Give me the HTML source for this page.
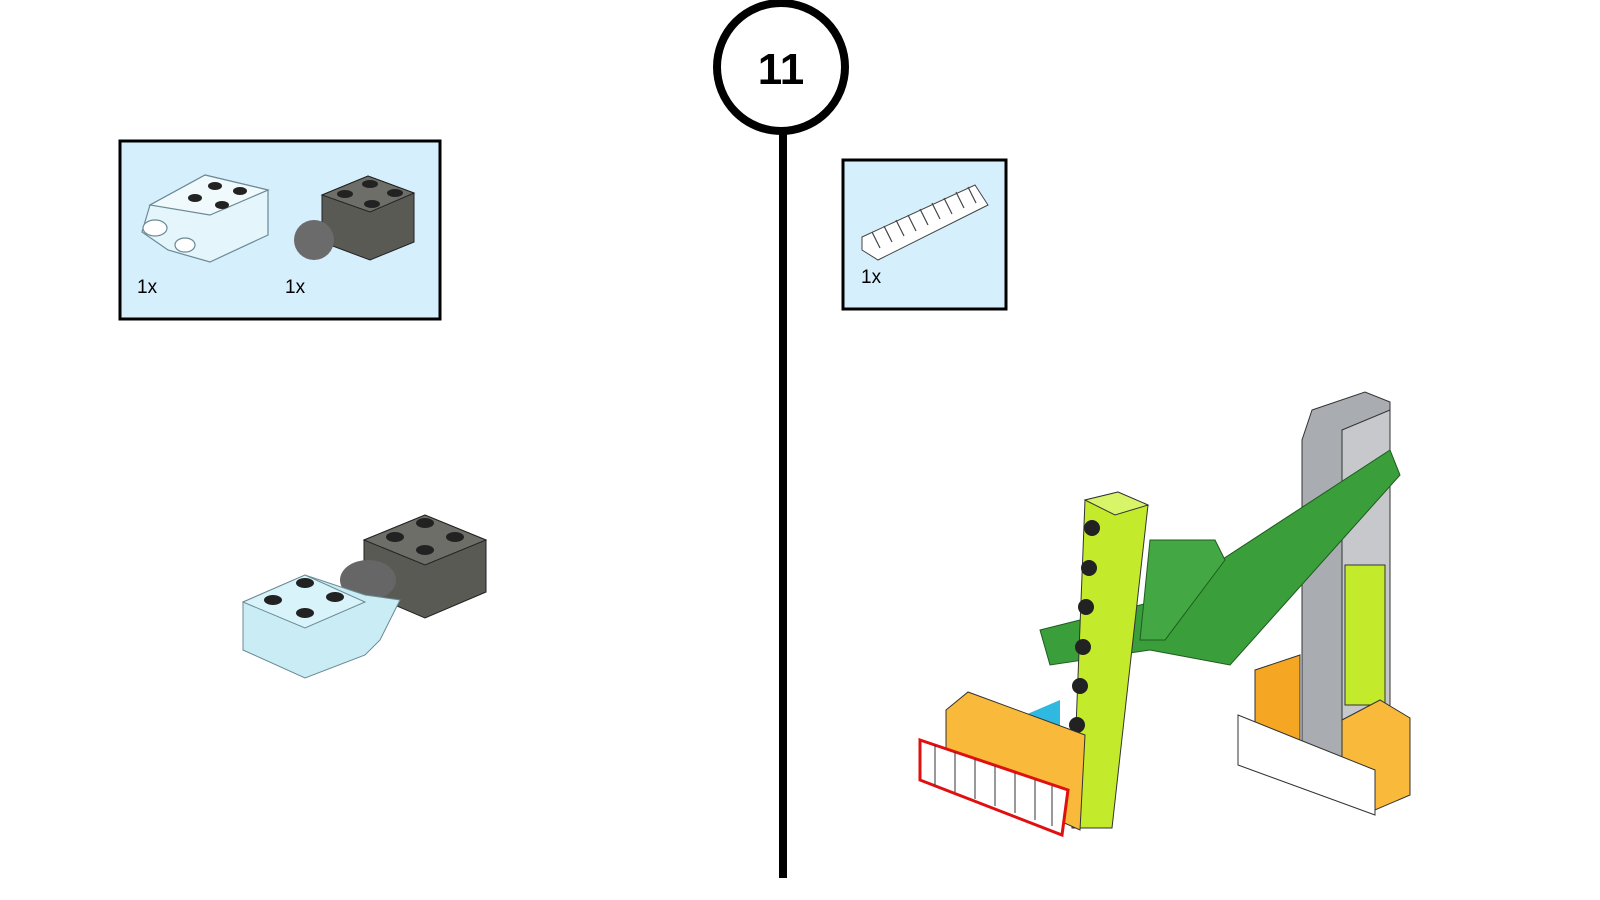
<!DOCTYPE html>
<html><head><meta charset="utf-8"><style>
html,body{margin:0;padding:0;background:#fff;width:1600px;height:900px;overflow:hidden}
svg{display:block}
text{font-family:"Liberation Sans",sans-serif}
</style></head><body>
<svg width="1600" height="900" viewBox="0 0 1600 900" xmlns="http://www.w3.org/2000/svg">
<!-- step circle and line -->
<line x1="783" y1="128" x2="783" y2="878" stroke="#000" stroke-width="8"/>
<circle cx="781" cy="67" r="64" fill="#fff" stroke="#000" stroke-width="8"/>
<text x="781" y="84" font-size="44" font-weight="bold" text-anchor="middle">11</text>

<!-- left parts box -->
<rect x="120" y="141" width="320" height="178" fill="#d6effc" stroke="#000" stroke-width="3"/>
<g stroke="#6a8a96" stroke-width="1.2" fill="#e4f5fb">
<polygon points="150,205 205,175 268,190 268,235 210,262 168,250 142,232"/>
<polygon points="205,175 268,190 210,215 150,205" fill="#f0fafd"/>
<ellipse cx="155" cy="228" rx="12" ry="8" fill="#fff"/>
<ellipse cx="185" cy="245" rx="10" ry="7" fill="#fff"/>
</g>
<g fill="#222"><ellipse cx="215" cy="186" rx="7" ry="4"/><ellipse cx="240" cy="191" rx="7" ry="4"/><ellipse cx="195" cy="198" rx="7" ry="4"/><ellipse cx="222" cy="205" rx="7" ry="4"/></g>
<polygon points="322,195 368,176 414,193 414,242 370,260 322,242" fill="#5a5a55" stroke="#222"/>
<polygon points="322,195 368,176 414,193 370,212" fill="#6e6e68" stroke="#222"/>
<g fill="#222"><ellipse cx="370" cy="184" rx="8" ry="4"/><ellipse cx="395" cy="193" rx="8" ry="4"/><ellipse cx="345" cy="194" rx="8" ry="4"/><ellipse cx="372" cy="204" rx="8" ry="4"/></g>
<circle cx="314" cy="240" r="20" fill="#6b6b6b"/>
<text x="137" y="293" font-size="19">1x</text>
<text x="285" y="293" font-size="19">1x</text>

<!-- right parts box -->
<rect x="843" y="160" width="163" height="149" fill="#d6effc" stroke="#000" stroke-width="3"/>
<polygon points="862,237 975,185 988,205 878,260 862,250" fill="#fff" stroke="#444"/>
<g stroke="#444" stroke-width="1.2">
<line x1="872" y1="232" x2="880" y2="248"/><line x1="884" y1="226" x2="892" y2="242"/><line x1="896" y1="220" x2="904" y2="236"/><line x1="908" y1="215" x2="916" y2="231"/><line x1="920" y1="209" x2="928" y2="225"/><line x1="932" y1="203" x2="940" y2="219"/><line x1="944" y1="198" x2="952" y2="214"/><line x1="956" y1="192" x2="964" y2="208"/><line x1="968" y1="187" x2="976" y2="203"/>
</g>
<text x="861" y="283" font-size="19">1x</text>

<!-- left assembly -->
<polygon points="364,540 425,515 486,540 486,592 425,618 364,592" fill="#5a5a55" stroke="#222"/>
<polygon points="364,540 425,515 486,540 425,565" fill="#6e6e68" stroke="#222"/>
<g fill="#222"><ellipse cx="425" cy="523" rx="9" ry="5"/><ellipse cx="455" cy="537" rx="9" ry="5"/><ellipse cx="395" cy="537" rx="9" ry="5"/><ellipse cx="425" cy="550" rx="9" ry="5"/></g>
<ellipse cx="368" cy="580" rx="28" ry="20" fill="#666"/>
<polygon points="243,602 305,575 365,595 400,600 380,640 365,655 305,678 243,650" fill="#c9ecf5" stroke="#6a8a96"/>
<polygon points="243,602 305,575 365,602 305,628" fill="#d8f3fa" stroke="#6a8a96"/>
<g fill="#222"><ellipse cx="305" cy="583" rx="9" ry="5"/><ellipse cx="335" cy="597" rx="9" ry="5"/><ellipse cx="273" cy="600" rx="9" ry="5"/><ellipse cx="305" cy="613" rx="9" ry="5"/></g>

<!-- right assembly -->
<!-- grey column -->
<polygon points="1312,410 1365,392 1390,402 1390,705 1340,760 1302,760 1302,440" fill="#a9acb0" stroke="#333"/>
<polygon points="1342,430 1390,410 1390,705 1342,760" fill="#c6c8cb" stroke="#333"/>
<rect x="1345" y="565" width="40" height="140" fill="#c4ea2c" stroke="#333"/>
<!-- right orange brick + rack -->
<polygon points="1255,670 1300,655 1300,760 1255,760" fill="#f5a623" stroke="#333"/>
<polygon points="1342,720 1380,700 1410,718 1410,795 1375,810 1342,790" fill="#f9b93a" stroke="#333"/>
<polygon points="1238,715 1300,740 1375,770 1375,815 1238,765" fill="#fff" stroke="#333"/>
<!-- green beam -->
<polygon points="1040,630 1160,600 1390,450 1400,475 1230,665 1150,650 1050,665" fill="#3a9e3a" stroke="#1f5c1f"/>
<polygon points="1150,540 1215,540 1225,560 1165,640 1140,640" fill="#43a843" stroke="#1f5c1f"/>
<!-- lime beam -->
<polygon points="1085,500 1118,492 1148,505 1112,828 1072,828" fill="#c4ea2c" stroke="#333"/>
<polygon points="1085,500 1118,492 1148,505 1115,515" fill="#d8f56a" stroke="#333"/>
<g fill="#222"><circle cx="1092" cy="528" r="8"/><circle cx="1089" cy="568" r="8"/><circle cx="1086" cy="607" r="8"/><circle cx="1083" cy="647" r="8"/><circle cx="1080" cy="686" r="8"/><circle cx="1077" cy="725" r="8"/></g>
<!-- left orange brick + rack -->
<polygon points="1025,715 1060,700 1060,745 1025,745" fill="#2fb8e0"/>
<polygon points="946,710 968,692 1085,735 1080,830 946,770" fill="#f9b93a" stroke="#333"/>
<polygon points="920,740 1068,790 1062,835 920,780" fill="#fff" stroke="#e01010" stroke-width="3"/>
<g stroke="#333"><line x1="935" y1="745" x2="935" y2="785"/><line x1="955" y1="752" x2="955" y2="792"/><line x1="975" y1="759" x2="975" y2="799"/><line x1="995" y1="766" x2="995" y2="806"/><line x1="1015" y1="773" x2="1015" y2="813"/><line x1="1035" y1="780" x2="1035" y2="820"/><line x1="1052" y1="786" x2="1052" y2="826"/></g>
</svg>
</body></html>
